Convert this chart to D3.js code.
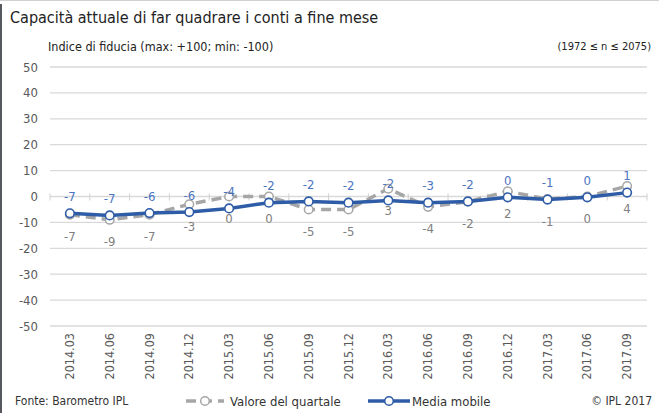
<!DOCTYPE html>
<html>
<head>
<meta charset="utf-8">
<script src="https://cdn.jsdelivr.net/npm/d3@7"></script>
<style>
  body { margin: 0; background: #fff; }
  svg { font-family: "Liberation Sans Narrow", "DejaVu Sans Condensed", "Liberation Sans", sans-serif; }
</style>
</head>
<body>
<svg id="svg" width="659" height="417"></svg>
<script>
const categories = ['2014.03', '2014.06', '2014.09', '2014.12', '2015.03', '2015.06', '2015.09', '2015.12',
                    '2016.03', '2016.06', '2016.09', '2016.12', '2017.03', '2017.06', '2017.09'];
// valore del quartale
const quarterValues = [-7, -9, -7, -3, 0, 0, -5, -5, 3, -4, -2, 2, -1, 0, 4];
// media mobile (posizione letta) e relative etichette
const mobileValues = [-6.5, -7.3, -6.4, -6.0, -4.6, -2.4, -1.9, -2.4, -1.5, -2.4, -1.9, -0.3, -1.2, -0.3, 1.5];
const mobileLabels = [-7, -7, -6, -6, -4, -2, -2, -2, -2, -3, -2, 0, -1, 0, 1];
const yTicks = [50, 40, 30, 20, 10, 0, -10, -20, -30, -40, -50];

const svg = d3.select('#svg');
const plot = {left: 50, right: 647, top: 67, bottom: 326};
const blue = '#2E5CA6', blueText = '#4A74C0', grey = '#A6A6A6', greyText = '#808080', axisText = '#595959';

// cornice
svg.append('line').attr('x1', 0).attr('x2', 659).attr('y1', 0.5).attr('y2', 0.5)
    .attr('stroke', '#d0d0d0').attr('stroke-width', 1);
svg.append('line').attr('x1', 1).attr('x2', 1).attr('y1', 4).attr('y2', 413)
    .attr('stroke', '#55595e').attr('stroke-width', 2);

// titoli
svg.append('text').attr('x', 10).attr('y', 23).attr('font-size', 16).attr('fill', '#222')
    .text('Capacità attuale di far quadrare i conti a fine mese');
svg.append('text').attr('x', 48).attr('y', 51).attr('font-size', 12.5).attr('fill', '#222')
    .text('Indice di fiducia (max: +100; min: -100)');
svg.append('text').attr('x', 651).attr('y', 50).attr('font-size', 11).attr('fill', '#222')
    .attr('text-anchor', 'end').text('(1972 \u2264 n \u2264 2075)');

const yScale = d3.scaleLinear().domain([-50, 50]).range([plot.bottom, plot.top]);
const xScale = d3.scalePoint().domain(categories).range([plot.left, plot.right]).padding(0.5);
const band = xScale.step();

// griglia
svg.append('g').selectAll('line').data(yTicks).enter().append('line')
    .attr('x1', plot.left).attr('x2', plot.right)
    .attr('y1', d => yScale(d)).attr('y2', d => yScale(d))
    .attr('stroke', '#d9d9d9').attr('stroke-width', 1.3);

// tacche sull'asse dello zero
svg.append('g').selectAll('line').data(d3.range(categories.length + 1)).enter().append('line')
    .attr('x1', i => plot.left + i * band).attr('x2', i => plot.left + i * band)
    .attr('y1', yScale(0) - 3).attr('y2', yScale(0) + 4)
    .attr('stroke', '#d0d0d0').attr('stroke-width', 1);

// asse y
svg.append('g').selectAll('text').data(yTicks).enter().append('text')
    .attr('x', 38).attr('y', d => yScale(d)).attr('dy', '0.35em')
    .attr('text-anchor', 'end').attr('font-size', 13).attr('fill', axisText)
    .text(d => d);

// asse x
svg.append('g').selectAll('text').data(categories).enter().append('text')
    .attr('transform', d => 'translate(' + (xScale(d) + 4) + ',333) rotate(-90)')
    .attr('text-anchor', 'end').attr('font-size', 12.5).attr('fill', axisText)
    .text(d => d);

const line = d3.line().x((d, i) => xScale(categories[i])).y(d => yScale(d));

// valore del quartale
svg.append('path').datum(quarterValues).attr('d', line)
    .attr('fill', 'none').attr('stroke', grey).attr('stroke-width', 3.5)
    .attr('stroke-dasharray', '10,6');
svg.append('g').selectAll('circle').data(quarterValues).enter().append('circle')
    .attr('cx', (d, i) => xScale(categories[i])).attr('cy', d => yScale(d)).attr('r', 4.3)
    .attr('fill', '#fff').attr('stroke', grey).attr('stroke-width', 1.5);
svg.append('g').selectAll('text').data(quarterValues).enter().append('text')
    .attr('x', (d, i) => xScale(categories[i])).attr('y', d => yScale(d) + 22).attr('dy', '0.35em')
    .attr('text-anchor', 'middle').attr('font-size', 13).attr('fill', greyText)
    .text(d => d);

// media mobile
svg.append('path').datum(mobileValues).attr('d', line)
    .attr('fill', 'none').attr('stroke', blue).attr('stroke-width', 3.5);
svg.append('g').selectAll('circle').data(mobileValues).enter().append('circle')
    .attr('cx', (d, i) => xScale(categories[i])).attr('cy', d => yScale(d)).attr('r', 4.3)
    .attr('fill', '#fff').attr('stroke', blue).attr('stroke-width', 1.6);
svg.append('g').selectAll('text').data(mobileLabels).enter().append('text')
    .attr('x', (d, i) => xScale(categories[i])).attr('y', (d, i) => yScale(mobileValues[i]) - 17).attr('dy', '0.35em')
    .attr('text-anchor', 'middle').attr('font-size', 13).attr('fill', blueText)
    .text(d => d);

// legenda e note
const ly = 401;
svg.append('text').attr('x', 15).attr('y', ly).attr('dy', '0.35em').attr('font-size', 12).attr('fill', '#333')
    .text('Fonte: Barometro IPL');
const legend = svg.append('g');
legend.append('line').attr('x1', 186).attr('x2', 224).attr('y1', ly).attr('y2', ly)
    .attr('stroke', grey).attr('stroke-width', 3.5).attr('stroke-dasharray', '10,6');
legend.append('circle').attr('cx', 205).attr('cy', ly).attr('r', 4.3)
    .attr('fill', '#fff').attr('stroke', grey).attr('stroke-width', 1.5);
legend.append('text').attr('x', 230).attr('y', ly).attr('dy', '0.35em').attr('font-size', 13).attr('fill', '#333')
    .text('Valore del quartale');
legend.append('line').attr('x1', 368).attr('x2', 410).attr('y1', ly).attr('y2', ly)
    .attr('stroke', blue).attr('stroke-width', 3.5);
legend.append('circle').attr('cx', 389).attr('cy', ly).attr('r', 4.3)
    .attr('fill', '#fff').attr('stroke', blue).attr('stroke-width', 1.6);
legend.append('text').attr('x', 412).attr('y', ly).attr('dy', '0.35em').attr('font-size', 13).attr('fill', '#333')
    .text('Media mobile');
svg.append('text').attr('x', 652).attr('y', ly).attr('dy', '0.35em').attr('font-size', 12).attr('fill', '#333')
    .attr('text-anchor', 'end').text('\u00a9 IPL 2017');
</script>
</body>
</html>
